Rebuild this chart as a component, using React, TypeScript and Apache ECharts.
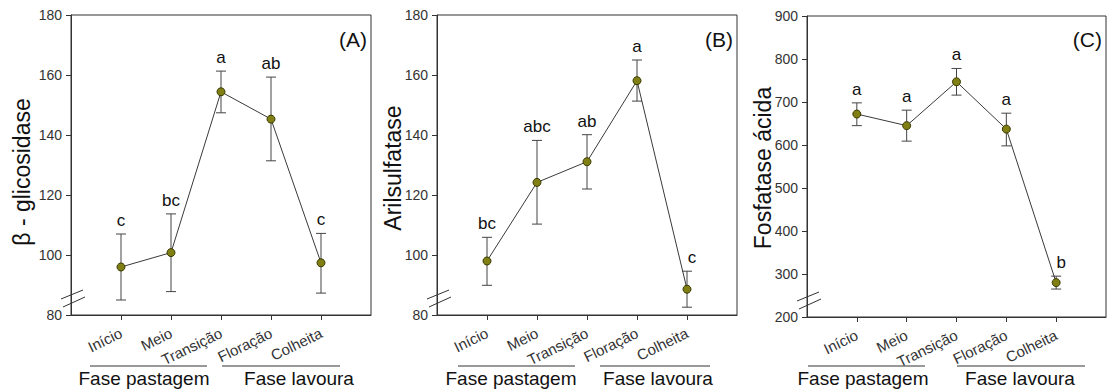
import React, { useEffect, useRef } from "react";
import * as echarts from "echarts";

// Growth stages along the x axis (placed at positions 1..5)
const stages = ["Início", "Meio", "Transição", "Floração", "Colheita"];
const stagePos = [1, 2, 3, 4, 5];

// β-glicosidase: means, lower/upper error limits and Tukey letters
const glicMean = [96, 100.8, 154.4, 145.3, 97.4];
const glicLow = [85, 87.8, 147.4, 131.4, 87.3];
const glicHigh = [107, 113.7, 161.3, 159.3, 107.2];
const glicLetters = ["c", "bc", "a", "ab", "c"];

// Arilsulfatase
const arilMean = [98, 124.2, 131.1, 158.1, 88.6];
const arilLow = [89.9, 110.3, 122, 151.3, 82.6];
const arilHigh = [105.9, 138.2, 140.1, 165, 94.6];
const arilLetters = ["bc", "abc", "ab", "a", "c"];

// Fosfatase ácida
const fosfMean = [672, 645, 747, 637, 280];
const fosfLow = [645, 609, 716, 598, 265];
const fosfHigh = [698, 681, 778, 674, 295];
const fosfLetters = ["a", "a", "a", "a", "b"];

// y-axis scales: [min, max, interval]
const glicScale = [80, 180, 20];
const arilScale = [80, 180, 20];
const fosfScale = [200, 900, 100];

const panelTitles = ["β - glicosidase", "Arilsulfatase", "Fosfatase ácida"];
const panelTags = ["(A)", "(B)", "(C)"];
const phaseNames = ["Fase pastagem", "Fase lavoura"];

const FONT = "'Liberation Sans', Arial, Helvetica, sans-serif";
const INK = "#333";

type Panel = {
  mean: number[];
  low: number[];
  high: number[];
  letters: string[];
  scale: number[];
  title: string;
  tag: string;
};

const panels: Panel[] = [
  { mean: glicMean, low: glicLow, high: glicHigh, letters: glicLetters, scale: glicScale, title: panelTitles[0], tag: panelTags[0] },
  { mean: arilMean, low: arilLow, high: arilHigh, letters: arilLetters, scale: arilScale, title: panelTitles[1], tag: panelTags[1] },
  { mean: fosfMean, low: fosfLow, high: fosfHigh, letters: fosfLetters, scale: fosfScale, title: panelTitles[2], tag: panelTags[2] },
];

// Layout of each panel (pixels)
const layout = [
  { left: 71, top: 15, width: 300, height: 300, titleX: 22, titleY: 172, pasture: [90, 207, 144], crop: [222, 340, 299] },
  { left: 437, top: 15, width: 300, height: 300, titleX: 393, titleY: 168, pasture: [458, 575, 511], crop: [600, 710, 658] },
  { left: 807, top: 16, width: 299, height: 301, titleX: 763, titleY: 168, pasture: [808, 925, 863], crop: [957, 1085, 1020] },
];

function buildOption() {
  const grid: any[] = [];
  const xAxis: any[] = [];
  const yAxis: any[] = [];
  const series: any[] = [];
  const graphic: any[] = [];

  panels.forEach((p, i) => {
    const L = layout[i];
    grid.push({
      left: L.left,
      top: L.top,
      width: L.width,
      height: L.height,
      show: true,
      borderColor: INK,
      borderWidth: 1,
      backgroundColor: "transparent",
    });
    xAxis.push({
      type: "value",
      gridIndex: i,
      min: 0,
      max: 6,
      interval: 1,
      splitLine: { show: false },
      axisLine: { lineStyle: { color: INK, width: 1 } },
      axisTick: { customValues: stagePos, length: 5, lineStyle: { color: INK } },
      axisLabel: {
        customValues: stagePos,
        rotate: 26,
        margin: 17,
        color: INK,
        fontFamily: FONT,
        fontSize: 15,
        formatter: (v: number) => stages[stagePos.indexOf(v)] ?? "",
      },
    });
    yAxis.push({
      type: "value",
      gridIndex: i,
      min: p.scale[0],
      max: p.scale[1],
      interval: p.scale[2],
      splitLine: { show: false },
      axisLine: { show: true, lineStyle: { color: INK, width: 1 } },
      axisTick: { show: true, length: 5, lineStyle: { color: INK } },
      axisLabel: { margin: 9, color: INK, fontFamily: FONT, fontSize: 14 },
    });

    // error bars with significance letters
    const errData = stagePos.map((x, k) => [x, p.low[k], p.high[k]]);
    const letters = p.letters;
    series.push({
      type: "custom",
      xAxisIndex: i,
      yAxisIndex: i,
      z: 2,
      encode: { x: 0, y: [1, 2] },
      data: errData,
      renderItem: (params: any, api: any) => {
        const x = api.value(0);
        const lo = api.coord([x, api.value(1)]);
        const hi = api.coord([x, api.value(2)]);
        const half = 5;
        const stroke = { stroke: "#444", lineWidth: 1 };
        const idx = params.dataIndex;
        const shift = idx === letters.length - 1 && i > 0 ? 5 : 0;
        return {
          type: "group",
          children: [
            { type: "line", shape: { x1: lo[0], y1: lo[1], x2: hi[0], y2: hi[1] }, style: stroke },
            { type: "line", shape: { x1: lo[0] - half, y1: lo[1], x2: lo[0] + half, y2: lo[1] }, style: stroke },
            { type: "line", shape: { x1: hi[0] - half, y1: hi[1], x2: hi[0] + half, y2: hi[1] }, style: stroke },
            {
              type: "text",
              x: hi[0] + shift,
              y: hi[1] - 5,
              style: {
                text: letters[idx],
                textAlign: "center",
                textVerticalAlign: "bottom",
                font: `17px ${FONT}`,
                fill: "#111",
              },
            },
          ],
        };
      },
    });

    // means joined by a line
    series.push({
      type: "line",
      xAxisIndex: i,
      yAxisIndex: i,
      z: 3,
      data: stagePos.map((x, k) => [x, p.mean[k]]),
      symbol: "circle",
      symbolSize: 8,
      itemStyle: { color: "#7f7f14", borderColor: "#3a3a00", borderWidth: 1 },
      lineStyle: { color: "#3a3a3a", width: 1 },
      label: { show: false },
    });

    const bottom = L.top + L.height;
    // y-axis title
    graphic.push({
      type: "text",
      x: L.titleX,
      y: L.titleY,
      rotation: Math.PI / 2,
      style: { text: p.title, font: `23px ${FONT}`, fill: "#111", textAlign: "center", textVerticalAlign: "middle" },
    });
    // panel tag
    graphic.push({
      type: "text",
      x: L.left + L.width - 4,
      y: 39,
      style: { text: p.tag, font: `21px ${FONT}`, fill: "#111", textAlign: "right", textVerticalAlign: "middle" },
    });
    // axis break marks
    const ax = L.left;
    graphic.push({ type: "line", shape: { x1: ax - 10, y1: bottom - 16, x2: ax + 12, y2: bottom - 25 }, style: { stroke: INK, lineWidth: 1 } });
    graphic.push({ type: "line", shape: { x1: ax - 8, y1: bottom - 8, x2: ax + 14, y2: bottom - 18 }, style: { stroke: INK, lineWidth: 1 } });
    // phase brackets
    [L.pasture, L.crop].forEach((seg, s) => {
      graphic.push({ type: "line", shape: { x1: seg[0], y1: 366, x2: seg[1], y2: 366 }, style: { stroke: INK, lineWidth: 1 } });
      graphic.push({
        type: "text",
        x: seg[2],
        y: 378,
        style: { text: phaseNames[s], font: `19px ${FONT}`, fill: "#111", textAlign: "center", textVerticalAlign: "middle" },
      });
    });
  });

  return {
    animation: false,
    backgroundColor: "#fff",
    grid,
    xAxis,
    yAxis,
    series,
    graphic: { elements: graphic },
  };
}

export default function App() {
  const ref = useRef<HTMLDivElement>(null);
  useEffect(() => {
    if (!ref.current) return;
    const chart = echarts.init(ref.current, undefined, { renderer: "svg" });
    chart.setOption(buildOption() as any);
    return () => chart.dispose();
  }, []);
  return (
    <div
      ref={ref}
      style={{ position: "absolute", left: 0, top: 0, width: 1107, height: 389, background: "#fff" }}
    />
  );
}
